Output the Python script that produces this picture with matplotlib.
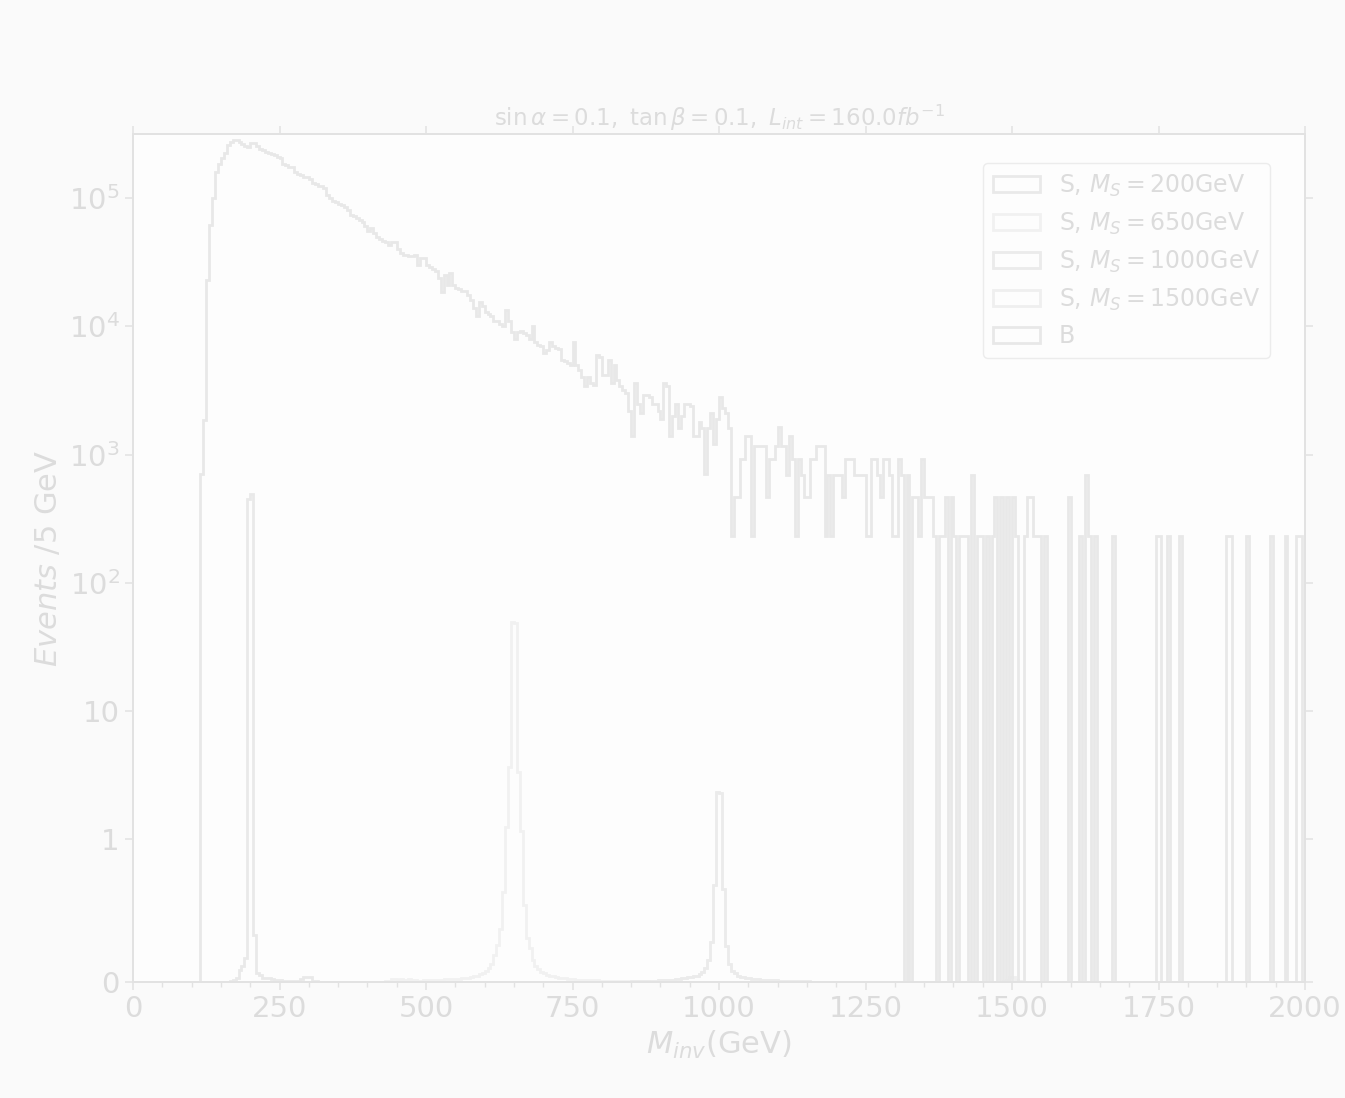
import numpy as np
import matplotlib
matplotlib.use("Agg")
import matplotlib.pyplot as plt
from matplotlib.ticker import FixedLocator, MultipleLocator, NullLocator

# ---------------- data ----------------
bin_width = 5
x_max = 2000
edges = np.arange(0, x_max + bin_width, bin_width)
nbins = len(edges) - 1

# Background: bulk values (bins 23..203)
b_bulk_start = 23
b_bulk = [
    700, 1870, 2.3e4, 6.2e4, 1.0e5, 1.6e5, 1.84e5, 2.05e5, 2.24e5, 2.58e5,
    2.74e5, 2.83e5, 2.85e5, 2.75e5, 2.65e5, 2.55e5, 2.5e5, 2.7e5, 2.7e5, 2.55e5,
    2.4e5, 2.35e5, 2.3e5, 2.25e5, 2.2e5, 2.15e5, 2.1e5, 2.05e5, 1.85e5, 1.8e5,
    1.75e5, 1.75e5, 1.6e5, 1.55e5, 1.5e5, 1.45e5, 1.45e5, 1.4e5, 1.3e5, 1.28e5,
    1.25e5, 1.25e5, 1.2e5, 1.05e5, 1.0e5, 9.5e4, 9.3e4, 9.0e4, 8.8e4, 8.5e4,
    8.0e4, 7.4e4, 7.2e4, 7.0e4, 6.7e4, 6.5e4, 6.0e4, 5.5e4, 5.8e4, 5.3e4,
    5.0e4, 4.8e4, 4.6e4, 4.5e4, 4.3e4, 4.5e4, 4.5e4, 4.0e4, 3.7e4, 3.6e4,
    3.6e4, 3.5e4, 3.5e4, 3.6e4, 3.0e4, 3.4e4, 3.4e4, 3.0e4, 2.9e4, 2.8e4,
    2.7e4, 2.4e4, 1.85e4, 2.5e4, 2.1e4, 2.6e4, 2.1e4, 2.0e4, 1.95e4, 1.9e4,
    1.9e4, 1.75e4, 1.6e4, 1.4e4, 1.2e4, 1.55e4, 1.45e4, 1.3e4, 1.25e4, 1.2e4,
    1.1e4, 1.1e4, 1.05e4, 1.0e4, 1.35e4, 1.1e4, 9.0e3, 8.0e3, 9.0e3, 9.2e3,
    8.8e3, 8.5e3, 8.0e3, 1.0e4, 7.5e3, 7.2e3, 7.0e3, 6.2e3, 6.5e3, 7.5e3,
    7.0e3, 6.8e3, 6.6e3, 5.5e3, 5.4e3, 5.2e3, 5.0e3, 7.5e3, 5.0e3, 4.6e3,
    4.0e3, 3.4e3, 4.0e3, 3.6e3, 3.5e3, 6.0e3, 5.8e3, 4.2e3, 4.2e3, 5.5e3,
    3.6e3, 5.0e3, 3.8e3, 3.4e3, 3.2e3, 3.0e3, 2.2e3, 1.4e3, 3.6e3, 2.5e3,
    2.1e3, 2.9e3, 2.9e3, 2.8e3, 2.5e3, 2.5e3, 2.2e3, 1.9e3, 3.6e3, 3.4e3,
    1.4e3, 2.0e3, 2.5e3, 1.6e3, 2.0e3, 2.5e3, 2.5e3, 2.4e3, 1.4e3, 1.4e3,
    1.8e3, 1.6e3, 700, 1.6e3, 2.1e3, 1.2e3, 1.9e3, 2.8e3, 2.3e3, 2.1e3,
    1.6e3,
]
# Background tail (bins 204..399): event counts of weight b_weight
b_weight = 233
b_tail_counts = [
    1, 2, 2, 4, 4, 6, 6, 1, 5, 5,
    5, 5, 2, 4, 4, 5, 7, 5, 5, 3,
    6, 4, 1, 4, 3, 2, 2, 4, 4, 5,
    5, 5, 1, 3, 1, 3, 3, 3, 2, 4,
    4, 4, 3, 3, 3, 3, 1, 1, 4, 4,
    3, 2, 4, 4, 3, 1, 1, 4, 3, 0,
    3, 0, 2, 2, 1, 4, 2, 2, 2, 1,
    0, 1, 1, 2, 0, 2, 1, 0, 1, 1,
    1, 0, 3, 0, 1, 1, 0, 1, 0, 1,
    2, 0, 2, 0, 2, 0, 2, 1, 0, 0,
    1, 2, 2, 1, 1, 1, 0, 1, 0, 0,
    0, 0, 0, 0, 0, 2, 0, 0, 0, 1,
    0, 3, 1, 0, 1, 0, 0, 0, 0, 0,
    1, 0, 0, 0, 0, 0, 0, 0, 0, 0,
    0, 0, 0, 0, 0, 1, 1, 0, 0, 1,
    0, 0, 0, 1, 0, 0, 0, 0, 0, 0,
    0, 0, 0, 0, 0, 0, 0, 0, 0, 1,
    1, 0, 0, 0, 0, 0, 1, 0, 0, 0,
    0, 0, 0, 0, 1, 0, 0, 0, 0, 1,
    0, 0, 0, 1, 1, 0,
]

# Signals: first bin index and values
s200_start = 33
s200_vals = [0.01, 0.015, 0.03, 0.085, 0.11, 0.17, 447, 490, 0.33, 0.063,
             0.05, 0.03, 0.03, 0.028, 0.02, 0.017, 0.015, 0.012, 0.01, 0.01,
             0.008, 0.008, 0.008, 0.01, 0.02, 0.035, 0.035, 0.035, 0.01, 0.005]
s650_start = 86
s650_vals = [0.005, 0.01, 0.02, 0.02, 0.015, 0.02, 0.015, 0.015, 0.02, 0.015,
             0.015, 0.01, 0.01, 0.012, 0.012, 0.013, 0.014, 0.015, 0.016, 0.017,
             0.018, 0.019, 0.02, 0.021, 0.022, 0.024, 0.026, 0.028, 0.03, 0.035,
             0.04, 0.045, 0.055, 0.065, 0.08, 0.1, 0.13, 0.19, 0.26, 0.37,
             0.63, 1.25, 3.7, 50, 49, 3.35, 1.17, 0.54, 0.31, 0.24,
             0.155, 0.11, 0.09, 0.07, 0.06, 0.05, 0.045, 0.04, 0.035, 0.03,
             0.028, 0.025, 0.022, 0.02, 0.018, 0.017, 0.016, 0.015, 0.014, 0.013,
             0.012, 0.011, 0.011, 0.01, 0.01, 0.009, 0.009, 0.008, 0.008, 0.007,
             0.007, 0.006, 0.006, 0.006, 0.005, 0.005, 0.005, 0.004, 0.004, 0.004]
s1000_start = 170
s1000_vals = [0.005, 0.006, 0.006, 0.007, 0.007, 0.008, 0.008, 0.009, 0.01, 0.011,
              0.012, 0.013, 0.014, 0.015, 0.017, 0.019, 0.022, 0.025, 0.028, 0.032,
              0.036, 0.04, 0.045, 0.055, 0.07, 0.1, 0.155, 0.28, 0.68, 2.35,
              2.3, 0.65, 0.25, 0.13, 0.08, 0.06, 0.045, 0.038, 0.032, 0.028,
              0.025, 0.022, 0.02, 0.018, 0.016, 0.015, 0.014, 0.013, 0.012, 0.011,
              0.01, 0.009, 0.009, 0.008, 0.008, 0.007, 0.007, 0.006, 0.006, 0.005, 0.005]
s1500_start = 297
s1500_vals = [0.005, 0.012, 0.035, 0.035, 0.012, 0.005]

labels = [r"S, $M_S=200$GeV", r"S, $M_S=650$GeV", r"S, $M_S=1000$GeV",
          r"S, $M_S=1500$GeV", "B"]
y_ticks = [0, 1, 10, 100, 1e3, 1e4, 1e5]
y_ticklabels = ["0", "1", "10", r"$10^2$", r"$10^3$", r"$10^4$", r"$10^5$"]
x_ticks = [0, 250, 500, 750, 1000, 1250, 1500, 1750, 2000]


def full(start, vals):
    arr = np.zeros(nbins)
    arr[start:start + len(vals)] = vals
    return arr


bkg = np.zeros(nbins)
bkg[b_bulk_start:b_bulk_start + len(b_bulk)] = b_bulk
t0 = b_bulk_start + len(b_bulk)
bkg[t0:t0 + len(b_tail_counts)] = np.array(b_tail_counts) * b_weight

series = [full(s200_start, s200_vals), full(s650_start, s650_vals),
          full(s1000_start, s1000_vals), full(s1500_start, s1500_vals), bkg]
colors = ["#e9e9e9", "#f1f1f1", "#ebebeb", "#efefef", "#e8e8e8"]

# ---------------- plot ----------------
txt = "#dcdcdc"
spine_c = "#e2e2e2"
fig = plt.figure(figsize=(13.45, 10.98), dpi=100, facecolor="#fafafa")
ax = fig.add_axes([0.0989, 0.1056, 0.8714, 0.7723])
ax.set_facecolor("#fdfdfd")

centers = edges[:-1] + bin_width / 2
for vals, col, lab in zip(series, colors, labels):
    ax.hist(centers, bins=edges, weights=vals, histtype="step",
            color=col, linewidth=2.0, label=lab)

ax.set_yscale("symlog", linthresh=1, linscale=1)
ax.set_xlim(0, x_max)
ax.set_ylim(0, 3.15e5)
ax.yaxis.set_major_locator(FixedLocator(y_ticks))
ax.set_yticklabels(y_ticklabels)
ax.yaxis.set_minor_locator(NullLocator())
ax.xaxis.set_major_locator(FixedLocator(x_ticks))
ax.xaxis.set_minor_locator(MultipleLocator(50))

for s in ax.spines.values():
    s.set_color(spine_c)
    s.set_linewidth(1.4)

ax.tick_params(which="major", direction="out", length=6, width=1.1,
               color=spine_c, labelcolor=txt, labelsize=21,
               top=True, right=True)
ax.tick_params(axis="x", which="minor", direction="out", length=3.5,
               width=1.0, color=spine_c, bottom=True, top=False)

ax.set_xlabel(r"$M_{inv}$(GeV)", fontsize=22, color=txt)
ax.set_ylabel(r"$Events$ /5 GeV", fontsize=22, color=txt)
ax.set_title(r"$\sin\alpha=0.1,\ \tan\beta=0.1,\ L_{int}=160.0fb^{-1}$",
             fontsize=16.5, color=txt)

leg = ax.legend(loc="upper right", bbox_to_anchor=(0.970, 0.966),
                borderaxespad=0, fontsize=17, frameon=True, fancybox=True,
                labelcolor=txt, facecolor="#fdfdfd", edgecolor="#ececec",
                framealpha=1.0)

fig.savefig("out.png", dpi=100, facecolor=fig.get_facecolor())
